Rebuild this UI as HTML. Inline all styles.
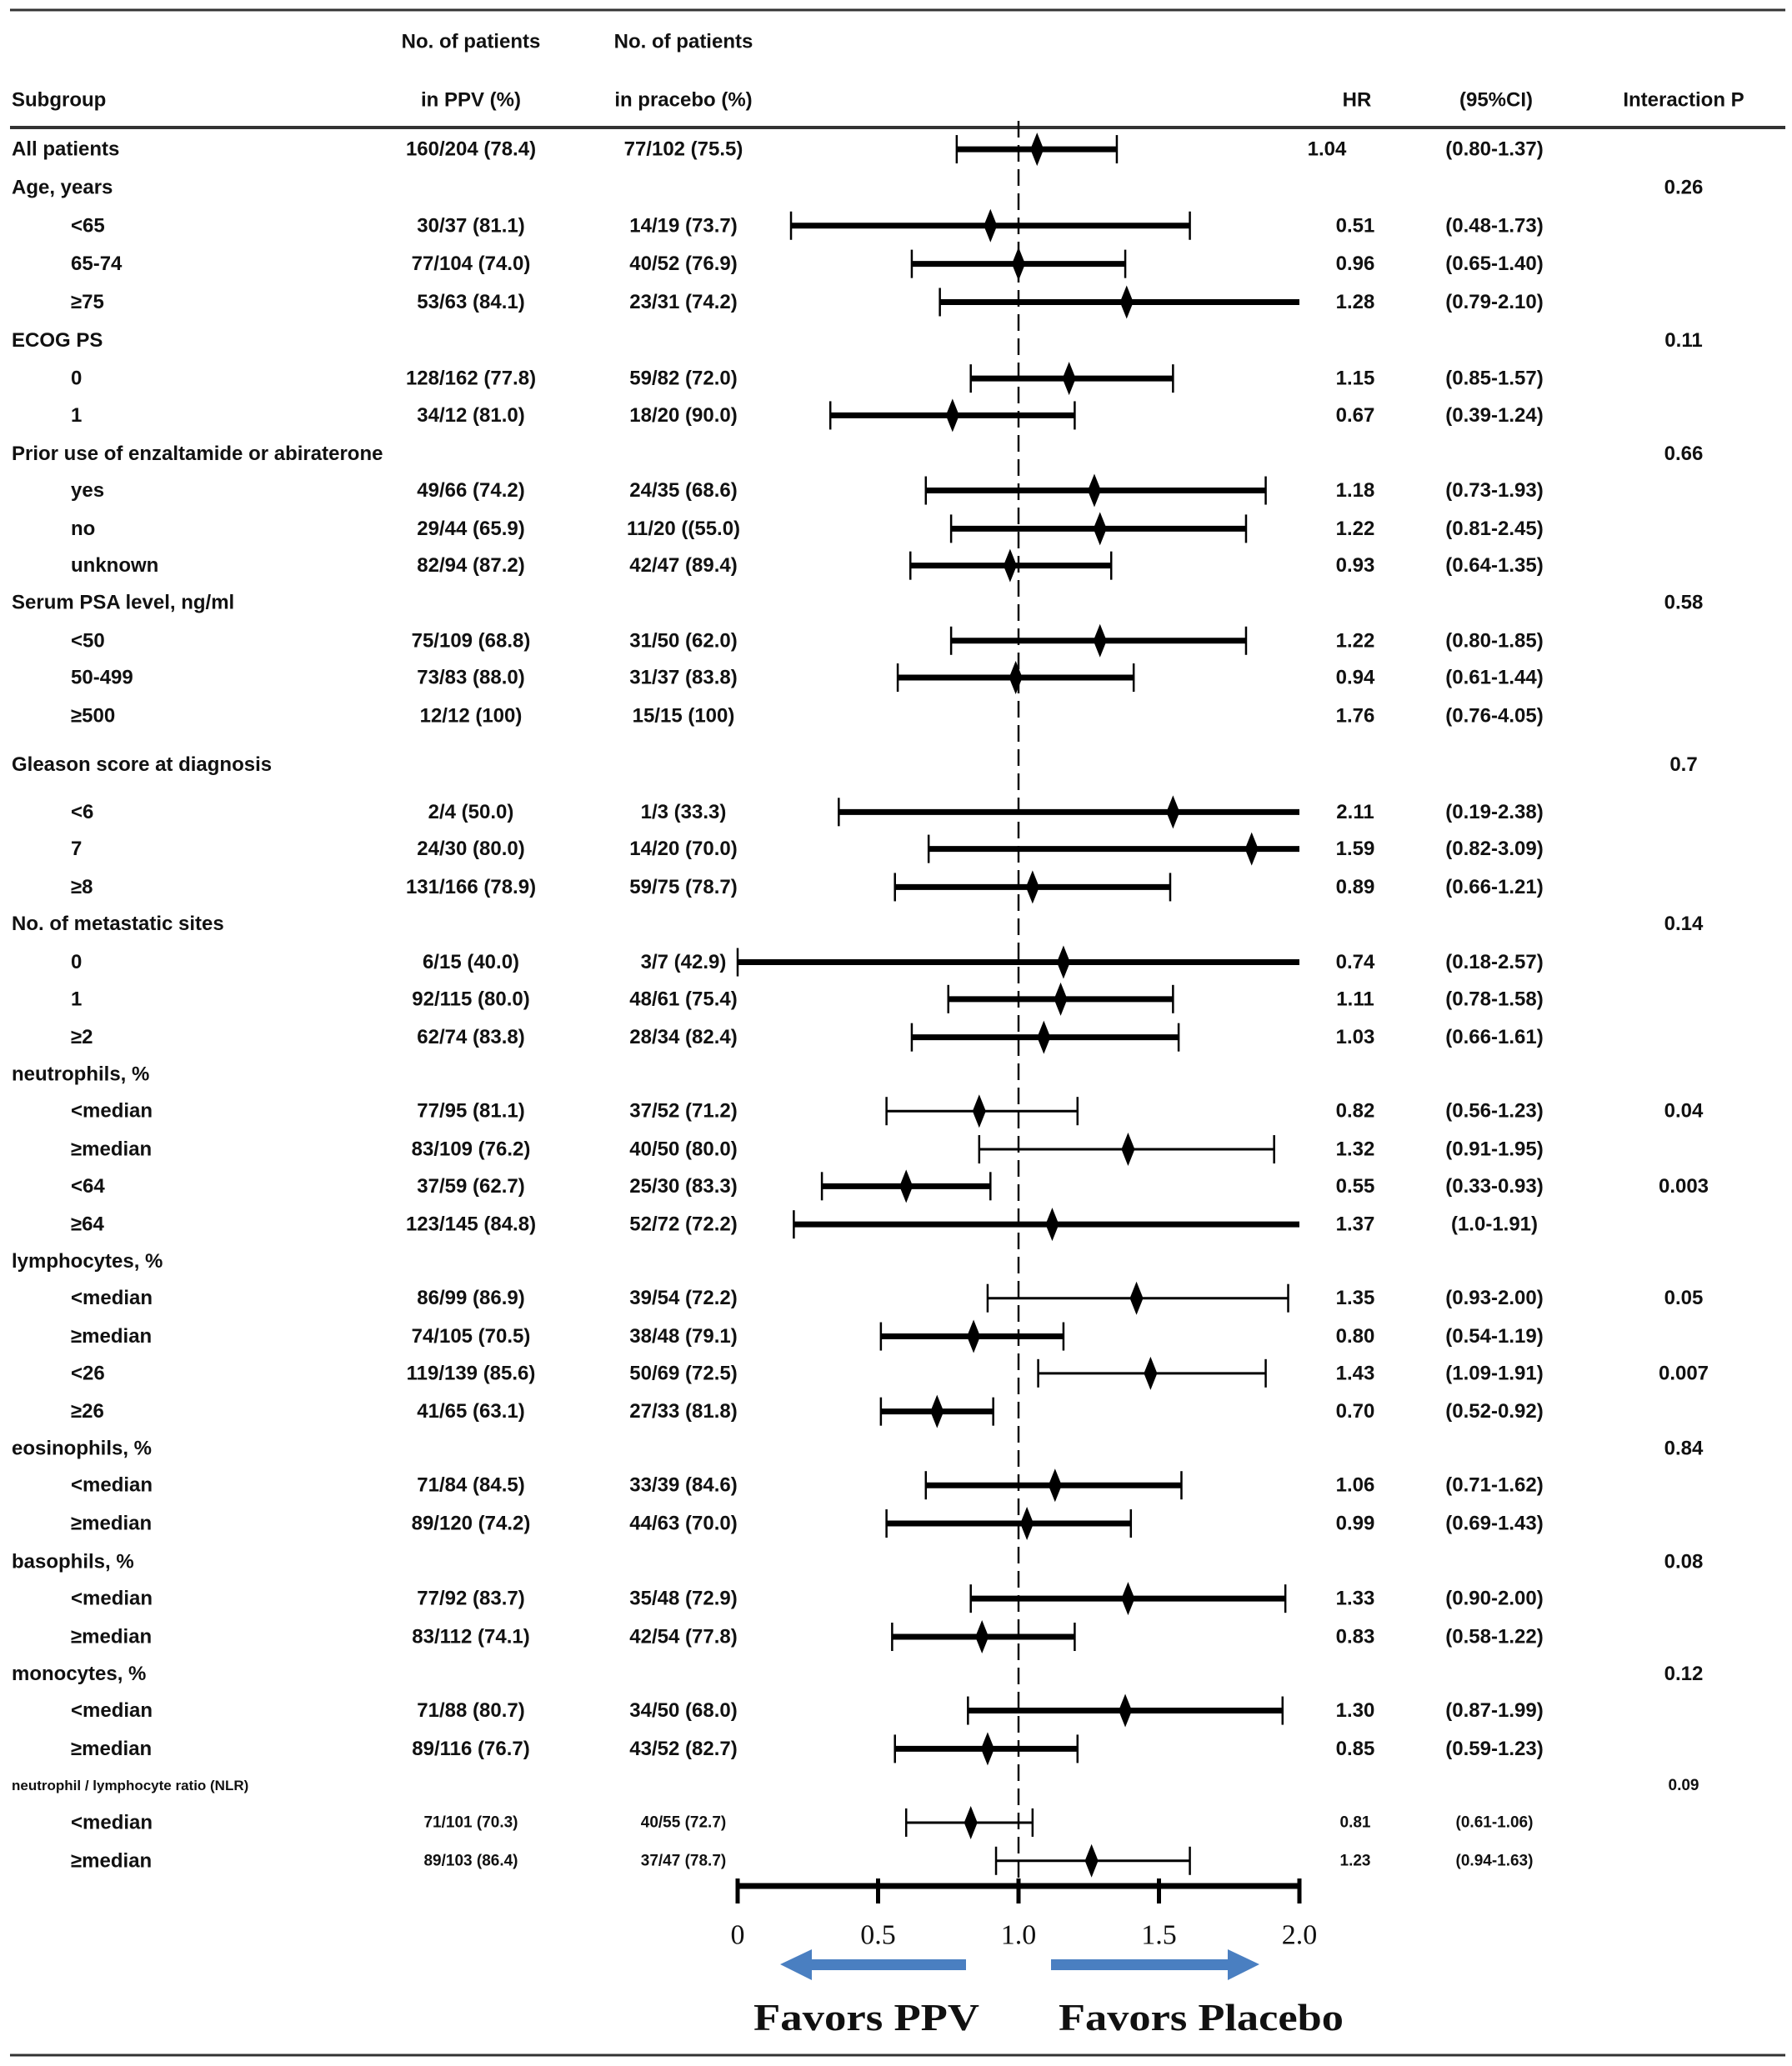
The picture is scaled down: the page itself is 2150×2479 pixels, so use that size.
<!DOCTYPE html>
<html><head><meta charset="utf-8">
<style>
html,body{margin:0;padding:0;background:#fff;}
svg{display:block;}
text{font-family:"Liberation Sans",Arial,sans-serif;font-weight:bold;fill:#111;}
.serif{font-family:"Liberation Serif","Times New Roman",serif;}
</style></head>
<body>
<svg id="chart" width="2150" height="2479" viewBox="0 0 2150 2479" xmlns="http://www.w3.org/2000/svg">
  <rect width="2150" height="2479" fill="#fff"/>
  <line x1="12" y1="12" x2="2142" y2="12" stroke="#333" stroke-width="3"/>
  <line x1="12" y1="153" x2="2142" y2="153" stroke="#333" stroke-width="4"/>
  <line x1="12" y1="2466" x2="2142" y2="2466" stroke="#333" stroke-width="3"/>
  <g font-size="24">
    <text x="565" y="50" text-anchor="middle" dominant-baseline="central">No. of patients</text>
    <text x="820" y="50" text-anchor="middle" dominant-baseline="central">No. of patients</text>
    <text x="14" y="120" dominant-baseline="central">Subgroup</text>
    <text x="565" y="120" text-anchor="middle" dominant-baseline="central">in PPV (%)</text>
    <text x="820" y="120" text-anchor="middle" dominant-baseline="central">in pracebo (%)</text>
    <text x="1628" y="120" text-anchor="middle" dominant-baseline="central">HR</text>
    <text x="1795" y="120" text-anchor="middle" dominant-baseline="central">(95%CI)</text>
    <text x="2020" y="120" text-anchor="middle" dominant-baseline="central">Interaction P</text>
  </g>
  <g id="rows"></g>
  <g id="marks"></g>
  <g id="axis"></g>
</svg>
<script>
// ---- data ----
const labels = ["All patients","Age, years","<65","65-74","≥75","ECOG PS","0","1","Prior use of enzaltamide or abiraterone","yes","no","unknown","Serum PSA level, ng/ml","<50","50-499","≥500","Gleason score at diagnosis","<6","7","≥8","No. of metastatic sites","0","1","≥2","neutrophils, %","<median","≥median","<64","≥64","lymphocytes,  %","<median","≥median","<26","≥26","eosinophils, %","<median","≥median","basophils, %","<median","≥median","monocytes, %","<median","≥median","neutrophil / lymphocyte ratio (NLR)","<median","≥median"];
const indent = [0,0,1,1,1,0,1,1,0,1,1,1,0,1,1,1,0,1,1,1,0,1,1,1,0,1,1,1,1,0,1,1,1,1,0,1,1,0,1,1,0,1,1,0,1,1];
const ppvText = ["160/204 (78.4)","","30/37 (81.1)","77/104 (74.0)","53/63 (84.1)","","128/162 (77.8)","34/12 (81.0)","","49/66 (74.2)","29/44 (65.9)","82/94 (87.2)","","75/109 (68.8)","73/83 (88.0)","12/12 (100)","","2/4 (50.0)","24/30 (80.0)","131/166 (78.9)","","6/15 (40.0)","92/115 (80.0)","62/74 (83.8)","","77/95 (81.1)","83/109 (76.2)","37/59 (62.7)","123/145 (84.8)","","86/99 (86.9)","74/105 (70.5)","119/139 (85.6)","41/65 (63.1)","","71/84 (84.5)","89/120 (74.2)","","77/92 (83.7)","83/112 (74.1)","","71/88 (80.7)","89/116 (76.7)","","71/101 (70.3)","89/103 (86.4)"];
const placeboText = ["77/102 (75.5)","","14/19 (73.7)","40/52 (76.9)","23/31 (74.2)","","59/82 (72.0)","18/20 (90.0)","","24/35 (68.6)","11/20 ((55.0)","42/47 (89.4)","","31/50 (62.0)","31/37 (83.8)","15/15 (100)","","1/3 (33.3)","14/20 (70.0)","59/75 (78.7)","","3/7 (42.9)","48/61 (75.4)","28/34 (82.4)","","37/52 (71.2)","40/50 (80.0)","25/30 (83.3)","52/72 (72.2)","","39/54 (72.2)","38/48 (79.1)","50/69 (72.5)","27/33 (81.8)","","33/39 (84.6)","44/63 (70.0)","","35/48 (72.9)","42/54 (77.8)","","34/50 (68.0)","43/52 (82.7)","","40/55 (72.7)","37/47 (78.7)"];
const hrText = ["1.04","","0.51","0.96","1.28","","1.15","0.67","","1.18","1.22","0.93","","1.22","0.94","1.76","","2.11","1.59","0.89","","0.74","1.11","1.03","","0.82","1.32","0.55","1.37","","1.35","0.80","1.43","0.70","","1.06","0.99","","1.33","0.83","","1.30","0.85","","0.81","1.23"];
const ciText = ["(0.80-1.37)","","(0.48-1.73)","(0.65-1.40)","(0.79-2.10)","","(0.85-1.57)","(0.39-1.24)","","(0.73-1.93)","(0.81-2.45)","(0.64-1.35)","","(0.80-1.85)","(0.61-1.44)","(0.76-4.05)","","(0.19-2.38)","(0.82-3.09)","(0.66-1.21)","","(0.18-2.57)","(0.78-1.58)","(0.66-1.61)","","(0.56-1.23)","(0.91-1.95)","(0.33-0.93)","(1.0-1.91)","","(0.93-2.00)","(0.54-1.19)","(1.09-1.91)","(0.52-0.92)","","(0.71-1.62)","(0.69-1.43)","","(0.90-2.00)","(0.58-1.22)","","(0.87-1.99)","(0.59-1.23)","","(0.61-1.06)","(0.94-1.63)"];
const pText = ["","0.26","","","","0.11","","","0.66","","","","0.58","","","","0.7","","","","0.14","","","","","0.04","","0.003","","","0.05","","0.007","","0.84","","","0.08","","","0.12","","","0.09","",""];
// plotted estimates (null = no mark)
const plotHR = [1.066,null,0.90,1.00,1.385,null,1.18,0.765,null,1.27,1.29,0.97,null,1.29,0.99,null,null,1.55,1.83,1.05,null,1.16,1.15,1.09,null,0.86,1.39,0.60,1.12,null,1.42,0.84,1.47,0.71,null,1.13,1.03,null,1.39,0.87,null,1.38,0.89,null,0.83,1.26];
const plotLo = [0.78,null,0.19,0.62,0.72,null,0.83,0.33,null,0.67,0.76,0.615,null,0.76,0.57,null,null,0.36,0.68,0.56,null,0.0,0.75,0.62,null,0.53,0.86,0.30,0.20,null,0.89,0.51,1.07,0.51,null,0.67,0.53,null,0.83,0.55,null,0.82,0.56,null,0.60,0.92];
const plotHi = [1.35,null,1.61,1.38,2.0,null,1.55,1.20,null,1.88,1.81,1.33,null,1.81,1.41,null,null,2.0,2.0,1.54,null,2.0,1.55,1.57,null,1.21,1.91,0.90,2.0,null,1.96,1.16,1.88,0.91,null,1.58,1.40,null,1.95,1.20,null,1.94,1.21,null,1.05,1.61];
const thinLine = [0,0,0,0,0,0,0,0,0,0,0,0,0,0,0,0,0,0,0,0,0,0,0,0,0,1,1,0,0,0,1,0,1,0,0,0,0,0,0,0,0,0,0,0,1,1];
const ticks = [0,0.5,1.0,1.5,2.0];
const tickLabels = ["0","0.5","1.0","1.5","2.0"];
// ---- layout ----
const rowDisp = [112,141,170,199,228,257,286,314,343,371,400,428,456,485,513,542,579,615,643,672,700,729,757,786,814,842,871,899,928,956,984,1013,1041,1070,1098,1126,1155,1184,1212,1241,1269,1297,1326,1354,1382,1411];
const yOf = i => rowDisp[i]*1.581 + 2;
const X0 = 885, X1 = 1559;
const xOf = v => X0 + (X1 - X0) * v / 2;
const NS = "http://www.w3.org/2000/svg";
function mk(tag, attrs, parent){const e=document.createElementNS(NS,tag);for(const k in attrs)e.setAttribute(k,attrs[k]);parent.appendChild(e);return e;}
const rowsG = document.getElementById('rows');
const marksG = document.getElementById('marks');
const axisG = document.getElementById('axis');

// reference dashed line
const ref = mk('line',{x1:xOf(1),x2:xOf(1),y1:145,y2:2255,stroke:'#111','stroke-width':2.5,'stroke-dasharray':'20 9'},marksG);



labels.forEach((lab,i)=>{
  const y = yOf(i);
  const small = i >= 43;
  const g = mk('g',{},rowsG);
  
  
  const t = mk('text',{x: indent[i]?85:14, y:y, 'dominant-baseline':'central','font-size': (i===43?17:24)},g);
  t.textContent = lab;
  
  
  const fs = small ? 19 : 24;
  if(ppvText[i]){const a=mk('text',{x:565,y:y,'text-anchor':'middle','dominant-baseline':'central','font-size':fs},g);a.textContent=ppvText[i];
    
    }
  if(placeboText[i]){const a=mk('text',{x:820,y:y,'text-anchor':'middle','dominant-baseline':'central','font-size':fs},g);a.textContent=placeboText[i];
    
    }
  if(hrText[i]){const a=mk('text',{x:(i===0?1592:1626),y:y,'text-anchor':'middle','dominant-baseline':'central','font-size':fs},g);a.textContent=hrText[i];
    
    }
  if(ciText[i]){const a=mk('text',{x:1793,y:y,'text-anchor':'middle','dominant-baseline':'central','font-size':fs},g);a.textContent=ciText[i];
    
    }
  if(pText[i]){const a=mk('text',{x:2020,y:y,'text-anchor':'middle','dominant-baseline':'central','font-size':(i===43?19:24)},g);a.textContent=pText[i];
    
    }
  if(plotHR[i]!==null){
    const m = mk('g',{},marksG);
    
    
    const xl=xOf(plotLo[i]), xh=xOf(plotHi[i]), xp=xOf(plotHR[i]);
    const sw = thinLine[i]?3:7;
    mk('line',{x1:xl,x2:xh,y1:y,y2:y,stroke:'#000','stroke-width':sw},m);
    mk('line',{x1:xl,x2:xl,y1:y-17,y2:y+17,stroke:'#000','stroke-width':2.5},m);
    if(plotHi[i]<2) mk('line',{x1:xh,x2:xh,y1:y-17,y2:y+17,stroke:'#000','stroke-width':2.5},m);
    mk('polygon',{points:`${xp},${y-20} ${xp+8},${y} ${xp},${y+20} ${xp-8},${y}`,fill:'#000'},m);
  }
});

// axis
const ax = mk('line',{x1:X0-2,x2:X1+2,y1:2263,y2:2263,stroke:'#000','stroke-width':7},axisG);


ticks.forEach((v,k)=>{
  const tk = mk('line',{x1:xOf(v),x2:xOf(v),y1:2254,y2:2284,stroke:'#000','stroke-width':5},axisG);
  
  
  const tl = mk('text',{x:xOf(v),y:2322,'text-anchor':'middle','dominant-baseline':'central','font-size':34,class:'serif',style:'font-weight:normal'},axisG);
  tl.textContent = tickLabels[k];
  
  
});
// arrows
const la = mk('polygon',{points:'936,2357 974,2339 974,2351 1159,2351 1159,2364 974,2364 974,2376',fill:'#4a7fc1'},axisG);


const ra = mk('polygon',{points:'1511,2357 1473,2339 1473,2351 1261,2351 1261,2364 1473,2364 1473,2376',fill:'#4a7fc1'},axisG);


const f1 = mk('text',{x:904,y:2436,'font-size':46,class:'serif',textLength:271,lengthAdjust:'spacingAndGlyphs'},axisG);
f1.textContent='Favors PPV';


const f2 = mk('text',{x:1270,y:2436,'font-size':46,class:'serif',textLength:342,lengthAdjust:'spacingAndGlyphs'},axisG);
f2.textContent='Favors Placebo';


</script>
</body></html>
